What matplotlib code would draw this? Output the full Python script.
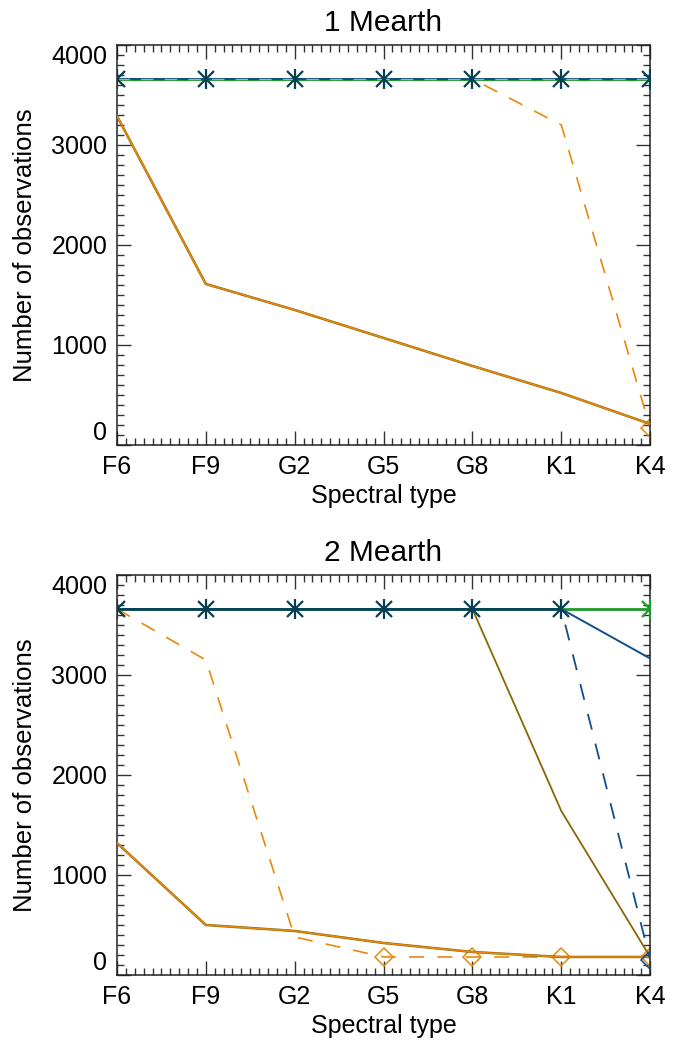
import numpy as np
import matplotlib
matplotlib.use("Agg")
from matplotlib import pyplot as plt
from matplotlib.ticker import MultipleLocator

plt.rcParams['font.family'] = ['Liberation Sans', 'DejaVu Sans']

# spectral types along the x axis
types = ["F6", "F9", "G2", "G5", "G8", "K1", "K4"]
x = np.arange(len(types))

# 1 Mearth panel
top_cap = [3660, 3660, 3660, 3660, 3660, 3660, 3660]
top_solid = [3290, 1610, 1350, 1070, 790, 520, 210]
top_dash = [3660, 3660, 3660, 3660, 3660, 3200, 170]

# 2 Mearth panel
bot_cap = [3660, 3660, 3660, 3660, 3660, 3660, 3660]
bot_blue = [3660, 3660, 3660, 3660, 3660, 3660, 3165]
bot_blue_dash = [3660, 3660, 3660, 3660, 3660, 3660, 150]
bot_brown = [3660, 3660, 3660, 3660, 3660, 1640, 180]
bot_solid = [1320, 500, 440, 320, 230, 180, 180]
bot_dash = [3660, 3150, 380, 180, 180, 180, 180]

ORANGE = "#E8890C"
BROWN = "#8B6508"
BLUE = "#104E8B"
GREEN = "#1E9A2A"
TEAL = "#073F52"
DASH = (9, 8)


def stars(ax, y, color=TEAL):
    ax.plot(x, y, ls="none", marker="x", ms=11, mew=1.6, color=color, zorder=8)
    ax.plot(x, y, ls="none", marker="|", ms=15, mew=1.6, color=color, zorder=8)


def style(ax, title):
    ax.set_xlim(0, 6)
    ax.set_ylim(0, 4000)
    ax.set_xticks(x)
    ax.set_xticklabels(types)
    ax.set_yticks([0, 1000, 2000, 3000, 4000])
    ax.xaxis.set_minor_locator(MultipleLocator(0.1))
    ax.yaxis.set_minor_locator(MultipleLocator(100))
    ax.tick_params(which="both", direction="in", top=True, right=True,
                   labelsize=18, color="#333333", width=1)
    ax.tick_params(which="major", length=10, pad=7)
    ax.tick_params(which="minor", length=5)
    ylabs = ax.get_yticklabels()
    ylabs[0].set_va("bottom")
    ylabs[-1].set_va("top")
    ax.set_title(title, fontsize=21.5, pad=10)
    ax.set_xlabel("Spectral type", fontsize=18, labelpad=4)
    ax.set_ylabel("Number of observations", fontsize=18.5, labelpad=10)
    for s in ax.spines.values():
        s.set_linewidth(1.1)
        s.set_color("#222222")


fig = plt.figure(figsize=(6.88, 10.46), dpi=100)
ax1 = fig.add_axes([0.170, 0.5746, 0.775, 0.3824])
ax2 = fig.add_axes([0.170, 0.0679, 0.775, 0.3824])

# top panel
ax1.plot(x, top_dash, color=ORANGE, lw=1.2, dashes=DASH, zorder=2)
ax1.plot(x[-1], top_dash[-1], ls="none", marker="D", ms=9, mfc="none",
         mec=ORANGE, mew=1.1, zorder=2)
ax1.plot(x, top_solid, color=BROWN, lw=1.8, zorder=3)
ax1.plot(x, top_solid, color=ORANGE, lw=1.1, zorder=3)
ax1.plot(x, top_cap, color=GREEN, lw=2.2, zorder=5)
ax1.plot(x, top_cap, color=BLUE, lw=1.4, zorder=6)
ax1.plot(x, top_cap, color="#aaaaaa", lw=1.0, dashes=DASH, zorder=7)
stars(ax1, top_cap)
style(ax1, "1 Mearth")

# bottom panel
ax2.plot(x, bot_dash, color=ORANGE, lw=1.2, dashes=DASH, zorder=2)
ax2.plot(x[3:], bot_dash[3:], ls="none", marker="D", ms=9, mfc="none",
         mec=ORANGE, mew=1.1, zorder=2)
ax2.plot(x, bot_solid, color=BROWN, lw=1.8, zorder=3)
ax2.plot(x, bot_solid, color=ORANGE, lw=1.1, zorder=3)
ax2.plot(x, bot_brown, color=BROWN, lw=1.3, zorder=3)
ax2.plot(x, bot_blue_dash, color=BLUE, lw=1.3, dashes=DASH, zorder=4)
ax2.plot(x[-1], bot_blue_dash[-1], ls="none", marker="D", ms=9, mfc="none",
         mec=BLUE, mew=1.1, zorder=4)
ax2.plot(x, bot_cap, color=GREEN, lw=2.0, zorder=5)
ax2.plot(x, bot_blue, color=BLUE, lw=1.4, zorder=6)
ax2.plot(x[:-1], bot_cap[:-1], color=TEAL, lw=1.8, zorder=7)
stars(ax2, bot_cap[:-1] + [np.nan])
stars(ax2, [np.nan] * 6 + [bot_cap[-1]], color=GREEN)
style(ax2, "2 Mearth")

fig.savefig("out.png", dpi=100)
